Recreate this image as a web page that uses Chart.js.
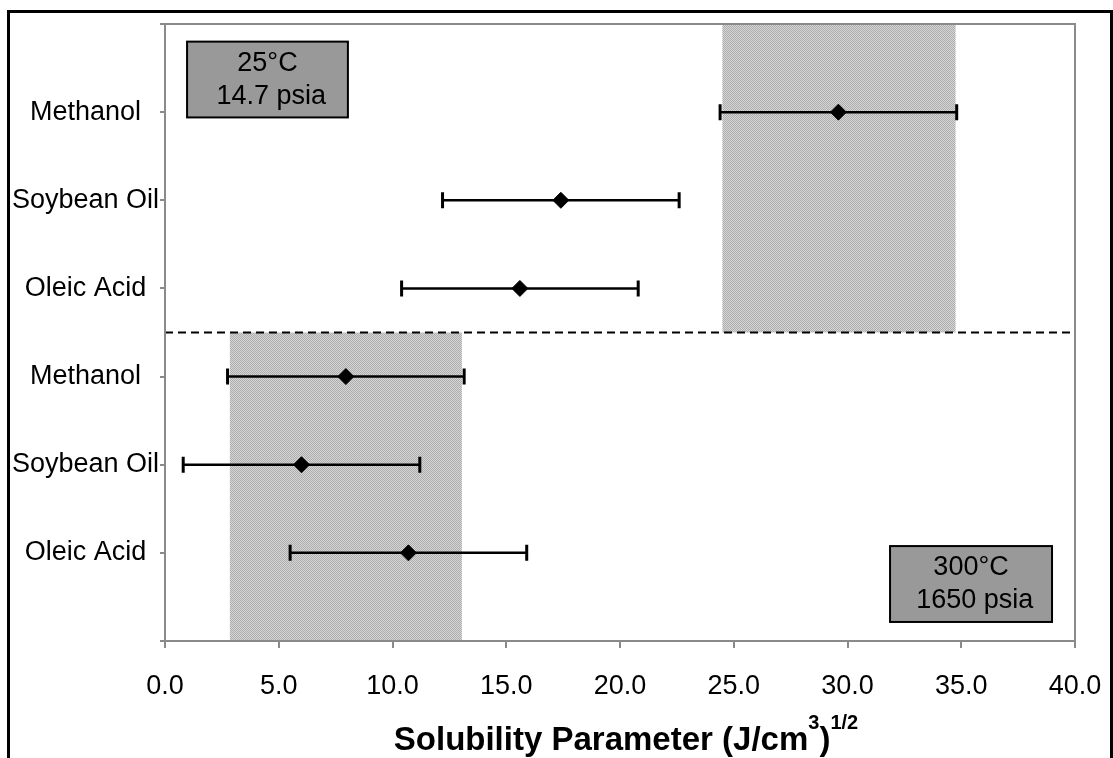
<!DOCTYPE html>
<html>
<head>
<meta charset="utf-8">
<script src="https://cdn.jsdelivr.net/npm/chart.js@4.4.1/dist/chart.umd.min.js"></script>
<style>
    html, body { margin: 0; padding: 0; background: #fff; overflow: hidden; }
    #wrap { position: relative; width: 1113px; height: 758px; }
    #frame { position: absolute; left: 7px; top: 10px; width: 1106px; height: 800px;
             border: 3px solid #000; box-sizing: border-box; pointer-events: none; }
    canvas { display: block; }
</style>
</head>
<body>
<div id="wrap">
    <canvas id="myChart" width="1113" height="758"></canvas>
    <div id="frame"></div>
</div>
<script>
// rows from the bottom of the plot up
const positions = [1, 2, 3, 4, 5, 6];
const categories = ["Oleic Acid", "Soybean Oil", "Methanol", "Oleic Acid", "Soybean Oil", "Methanol"];
const means = [10.7, 6.0, 7.95, 15.6, 17.4, 29.6];
const errors = [5.2, 5.2, 5.2, 5.2, 5.2, 5.2];

// shaded ranges (x from / to, y from / to)
const bandX = [[2.85, 13.05], [24.5, 34.75]];
const bandY = [[0, 3.5], [3.5, 7]];
const dividerY = 3.5;

const xTickLabels = ["0.0", "5.0", "10.0", "15.0", "20.0", "25.0", "30.0", "35.0", "40.0"];

const FONT = "'Liberation Sans', Arial, sans-serif";

function init() {
    const canvas = document.getElementById("myChart");

    // dotted grey fill like the original
    const tile = document.createElement("canvas");
    tile.width = 2; tile.height = 2;
    const tctx = tile.getContext("2d");
    tctx.fillStyle = "#d6d6d6"; tctx.fillRect(0, 0, 2, 2);
    tctx.fillStyle = "#adadad"; tctx.fillRect(0, 0, 1, 1); tctx.fillRect(1, 1, 1, 1);

    // condition labels, placed in data units
    const notes = [
        { x: [0.97, 8.04], y: [5.94, 6.8], lines: ["25°C", " 14.7 psia"] },
        { x: [31.87, 38.99], y: [0.216, 1.077], lines: ["300°C", " 1650 psia"] }
    ];

    const decor = {
        id: "decor",
        beforeDatasetsDraw(chart) {
            const { ctx, scales: { x, y } } = chart;
            ctx.save();
            ctx.fillStyle = ctx.createPattern(tile, "repeat");
            bandX.forEach((bx, i) => {
                const l = x.getPixelForValue(bx[0]), r = x.getPixelForValue(bx[1]);
                const t = y.getPixelForValue(bandY[i][1]), b = y.getPixelForValue(bandY[i][0]);
                ctx.fillRect(l, t, r - l, b - t);
            });

            // error bars with caps
            ctx.strokeStyle = "#000";
            positions.forEach((p, i) => {
                const py = y.getPixelForValue(p);
                const lo = x.getPixelForValue(means[i] - errors[i]);
                const hi = x.getPixelForValue(means[i] + errors[i]);
                ctx.lineWidth = 2.5;
                ctx.beginPath(); ctx.moveTo(lo, py); ctx.lineTo(hi, py); ctx.stroke();
                ctx.lineWidth = 3;
                ctx.beginPath();
                ctx.moveTo(lo, py - 8); ctx.lineTo(lo, py + 8);
                ctx.moveTo(hi, py - 8); ctx.lineTo(hi, py + 8);
                ctx.stroke();
            });
            ctx.restore();
        },
        afterDatasetsDraw(chart) {
            const { ctx, chartArea: a, scales: { x, y } } = chart;
            ctx.save();
            ctx.strokeStyle = "#8a8a8a";
            ctx.lineWidth = 2;
            ctx.strokeRect(a.left, a.top, a.width, a.height);

            notes.forEach(n => {
                const l = x.getPixelForValue(n.x[0]), r = x.getPixelForValue(n.x[1]);
                const t = y.getPixelForValue(n.y[1]), b = y.getPixelForValue(n.y[0]);
                ctx.fillStyle = "#999999";
                ctx.fillRect(l, t, r - l, b - t);
                ctx.strokeStyle = "#000";
                ctx.lineWidth = 2;
                ctx.strokeRect(l, t, r - l, b - t);
                ctx.fillStyle = "#000";
                ctx.font = "27px " + FONT;
                ctx.textAlign = "center";
                ctx.textBaseline = "middle";
                const cx = (l + r) / 2, cy = (t + b) / 2;
                ctx.fillText(n.lines[0], cx, cy - 16);
                ctx.fillText(n.lines[1], cx, cy + 17);
            });
            ctx.restore();
        },
        afterDraw(chart) {
            // axis title with superscripts
            const { ctx, chartArea: a } = chart;
            const parts = [
                { t: "Solubility Parameter (J/cm", size: 33, rise: 0 },
                { t: "3", size: 20, rise: 21 },
                { t: ")", size: 33, rise: 0 },
                { t: "1/2", size: 20, rise: 21 }
            ];
            ctx.save();
            let total = 0;
            parts.forEach(p => {
                ctx.font = "bold " + p.size + "px " + FONT;
                p.w = ctx.measureText(p.t).width;
                total += p.w;
            });
            let px = (a.left + a.right) / 2 - total / 2 + 6;
            const base = chart.height - 8;
            ctx.fillStyle = "#000";
            ctx.textAlign = "left";
            ctx.textBaseline = "alphabetic";
            parts.forEach(p => {
                ctx.font = "bold " + p.size + "px " + FONT;
                ctx.fillText(p.t, px, base - p.rise);
                px += p.w;
            });
            ctx.restore();
        }
    };

    new Chart(canvas, {
        type: "scatter",
        data: {
            datasets: [
                {
                    data: positions.map((p, i) => ({ x: means[i], y: p })),
                    pointStyle: "rectRot",
                    pointRadius: 8,
                    backgroundColor: "#000",
                    borderColor: "#000",
                    borderWidth: 1
                },
                {
                    type: "line",
                    data: [{ x: 0, y: dividerY }, { x: 40, y: dividerY }],
                    borderColor: "#000",
                    borderWidth: 2,
                    borderDash: [8, 5],
                    pointRadius: 0,
                    fill: false
                }
            ]
        },
        options: {
            responsive: false,
            animation: false,
            layout: { padding: { top: 24, right: 38, left: 0, bottom: 0 } },
            plugins: { legend: { display: false }, tooltip: { enabled: false } },
            scales: {
                x: {
                    type: "linear",
                    min: 0, max: 40,
                    afterFit: s => { s.height = 117; s.paddingLeft = 0; s.paddingRight = 0; },
                    ticks: {
                        stepSize: 5,
                        padding: 22,
                        color: "#000",
                        font: { family: FONT, size: 27 },
                        callback: (v, i) => xTickLabels[i]
                    },
                    grid: { drawOnChartArea: false, tickLength: 7, color: "#8a8a8a", lineWidth: 2 },
                    border: { display: false }
                },
                y: {
                    type: "linear",
                    min: 0, max: 7,
                    afterFit: s => { s.width = 165; },
                    ticks: {
                        stepSize: 1,
                        autoSkip: false,
                        padding: 1,
                        crossAlign: "center",
                        color: "#000",
                        font: { family: FONT, size: 27 },
                        callback: v => categories[positions.indexOf(v)] || ""
                    },
                    grid: { drawOnChartArea: false, tickLength: 5, color: "#8a8a8a", lineWidth: 2 },
                    border: { display: false }
                }
            }
        },
        plugins: [decor]
    });
}

document.addEventListener("DOMContentLoaded", init);
</script>
</body>
</html>
